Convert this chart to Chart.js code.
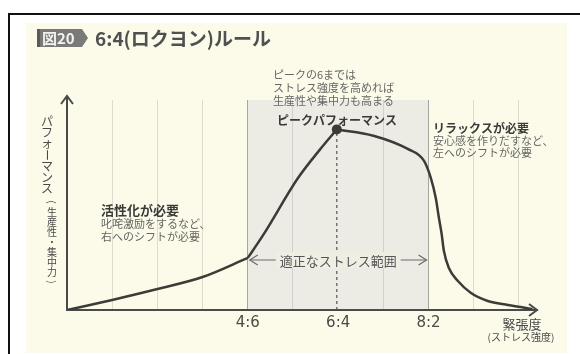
<!DOCTYPE html>
<html lang="ja">
<head>
<meta charset="utf-8">
<script src="https://cdn.jsdelivr.net/npm/chart.js@4.4.1/dist/chart.umd.min.js"></script>
<style>
  html, body { margin: 0; padding: 0; background: #fff; }
  #chart { display: block; }
</style>
</head>
<body>
<canvas id="chart" width="580" height="354"></canvas>
<script>
// x = stress level (4 -> 4:6, 6 -> 6:4, 8 -> 8:2), y = performance 0-100
const lowX = [0, 1, 2, 3, 4];
const lowY = [0, 4.8, 10, 15.7, 24.8];
const climbX = [4, 4.35, 5.1, 5.6, 5.97];
const climbY = [24.8, 36, 62.5, 76.5, 86];
const fallX = [5.97, 6.78, 7.54, 7.9, 8.05, 8.16, 8.23, 8.29, 8.34, 8.45, 8.65, 8.94, 9.31, 9.76, 10.04, 10.3];
const fallY = [86, 83, 76.7, 71, 62.9, 53.3, 43.8, 36.2, 28.1, 20, 13.8, 8.1, 4.3, 2.4, 1.4, 0.4];
const peakX = 5.97, peakY = 86;
const zoneFrom = 4, zoneTo = 8;
const gridValues = [1, 2, 3, 4, 5, 6, 7, 8, 9, 10];
const tickLabels = { 4: '4:6', 6: '6:4', 8: '8:2' };

const JP = "'Noto Sans CJK JP', sans-serif";
const lineColor = '#3d3b38';

const toPoints = (xs, ys) => xs.map((x, i) => ({ x: x, y: ys[i] }));

// stacked vertical japanese text, some glyphs turned
function vtext(ctx, str, x, y, step) {
  [...str].forEach((ch, i) => {
    const cy = y + i * step;
    if ('ー()'.includes(ch)) {
      ctx.save();
      ctx.translate(x, cy);
      ctx.rotate(Math.PI / 2);
      ctx.fillText(ch, 0, 0);
      ctx.restore();
    } else {
      ctx.fillText(ch, x, cy);
    }
  });
}

function arrowHead(ctx, x, y, dir, len, half) {
  ctx.beginPath();
  if (dir === 'right') {
    ctx.moveTo(x - len, y - half); ctx.lineTo(x, y); ctx.lineTo(x - len, y + half);
  } else if (dir === 'left') {
    ctx.moveTo(x + len, y - half); ctx.lineTo(x, y); ctx.lineTo(x + len, y + half);
  } else {
    ctx.moveTo(x - half, y + len); ctx.lineTo(x, y); ctx.lineTo(x + half, y + len);
  }
  ctx.stroke();
}

const paperPlugin = {
  id: 'paper',
  beforeDraw(chart) {
    const ctx = chart.ctx;
    ctx.save();
    ctx.fillStyle = '#ffffff';
    ctx.fillRect(0, 0, chart.width, chart.height);
    ctx.fillStyle = '#fcfbea';
    ctx.fillRect(26, 23, 541, 330);
    ctx.strokeStyle = '#111';
    ctx.lineWidth = 2;
    ctx.beginPath();
    ctx.moveTo(580, 14); ctx.lineTo(9, 14); ctx.lineTo(9, 354);
    ctx.stroke();

    // title badge
    ctx.fillStyle = '#7a7a78';
    ctx.beginPath();
    ctx.moveTo(37, 29); ctx.lineTo(82, 29); ctx.lineTo(88, 38); ctx.lineTo(82, 47); ctx.lineTo(37, 47);
    ctx.closePath();
    ctx.fill();
    ctx.fillStyle = '#5a5a58';
    ctx.fillRect(37, 29, 3, 18);
    ctx.fillStyle = '#f2f2f0';
    ctx.font = 'bold 15px ' + JP;
    ctx.textBaseline = 'middle';
    ctx.fillText('図20', 42, 38.5);
    ctx.fillStyle = '#505050';
    ctx.font = 'bold 19px ' + JP;
    ctx.fillText('6:4(ロクヨン)ルール', 95, 39);
    ctx.restore();
  }
};

const notesPlugin = {
  id: 'notes',
  afterDatasetsDraw(chart) {
    const ctx = chart.ctx;
    const xs = chart.scales.x, ys = chart.scales.y;
    const x0 = xs.getPixelForValue(0), y0 = ys.getPixelForValue(0);
    ctx.save();
    ctx.strokeStyle = '#4a4a48';
    ctx.lineWidth = 2;
    // y axis with arrow
    ctx.beginPath();
    ctx.moveTo(x0, y0 + 1); ctx.lineTo(x0, 96);
    ctx.stroke();
    arrowHead(ctx, x0, 96, 'up', 8, 6);
    arrowHead(ctx, chart.chartArea.right, y0, 'right', 8, 6);

    // optimal stress range
    const ay = ys.getPixelForValue(23.8);
    const ax1 = xs.getPixelForValue(zoneFrom) + 2, ax2 = xs.getPixelForValue(zoneTo) - 2;
    const mid = (ax1 + ax2) / 2;
    ctx.font = '13px ' + JP;
    ctx.textAlign = 'center';
    ctx.textBaseline = 'middle';
    const tw = ctx.measureText('適正なストレス範囲').width;
    ctx.fillStyle = '#efeee3';
    ctx.fillRect(mid - tw / 2 - 3, ay - 8, tw + 6, 16);
    ctx.fillStyle = '#555';
    ctx.fillText('適正なストレス範囲', mid, ay + 1);
    ctx.strokeStyle = '#6a6a68';
    ctx.lineWidth = 1.2;
    ctx.beginPath();
    ctx.moveTo(ax1, ay); ctx.lineTo(mid - tw / 2 - 4, ay);
    ctx.moveTo(mid + tw / 2 + 4, ay); ctx.lineTo(ax2, ay);
    ctx.stroke();
    arrowHead(ctx, ax1, ay, 'left', 8, 5);
    arrowHead(ctx, ax2, ay, 'right', 8, 5);

    // axis titles
    ctx.fillStyle = '#4a4a48';
    ctx.font = '12px ' + JP;
    vtext(ctx, 'パフォーマンス', 47, 121, 11.3);
    ctx.font = '10px ' + JP;
    vtext(ctx, '(生産性・集中力)', 52, 202, 10);
    ctx.font = '13px ' + JP;
    ctx.fillText('緊張度', 522, 324);
    ctx.font = '10px ' + JP;
    ctx.fillText('(ストレス強度)', 521, 337);

    // annotations
    ctx.textAlign = 'left';
    const note = (txt, x, y, bold, size) => {
      ctx.font = (bold ? 'bold ' : '') + size + 'px ' + JP;
      ctx.fillStyle = bold ? '#3a3a38' : '#666664';
      ctx.fillText(txt, x, y);
    };
    note('ピークの6までは', 273, 75, false, 11);
    note('ストレス強度を高めれば', 273, 88, false, 11);
    note('生産性や集中力も高まる', 273, 101, false, 11);
    note('ピークパフォーマンス', 277, 120, true, 12);
    note('リラックスが必要', 433, 128, true, 12);
    note('安心感を作りだすなど、', 433, 141, false, 11);
    note('左へのシフトが必要', 433, 153, false, 11);
    note('活性化が必要', 101, 210, true, 13);
    note('叱咤激励をするなど、', 101, 224, false, 11);
    note('右へのシフトが必要', 101, 237, false, 11);
    ctx.restore();
  }
};

const curve = (xs, ys, order) => ({
  data: toPoints(xs, ys),
  borderColor: lineColor,
  borderWidth: 2.5,
  pointRadius: 0,
  cubicInterpolationMode: 'monotone',
  fill: false,
  order: order
});

new Chart(document.getElementById('chart'), {
  type: 'line',
  data: {
    datasets: [
      {
        data: [{ x: peakX, y: peakY }],
        showLine: false,
        pointRadius: 5,
        pointBackgroundColor: lineColor,
        pointBorderWidth: 0,
        order: 0
      },
      curve(lowX, lowY, 1),
      curve(climbX, climbY, 1),
      curve(fallX, fallY, 2),
      {
        data: [{ x: peakX, y: 0 }, { x: peakX, y: peakY }],
        borderColor: '#555',
        borderWidth: 1.2,
        borderDash: [3, 3],
        pointRadius: 0,
        fill: false,
        order: 3
      },
      {
        // optimal stress zone
        data: [{ x: zoneFrom, y: 100 }, { x: zoneTo, y: 100 }],
        borderWidth: 0,
        pointRadius: 0,
        fill: 'origin',
        backgroundColor: 'rgba(112,111,180,0.1)',
        order: 10
      }
    ]
  },
  options: {
    responsive: false,
    animation: false,
    devicePixelRatio: 1,
    layout: { padding: { left: 67, right: 43, top: 100, bottom: 0 } },
    plugins: { legend: { display: false }, tooltip: { enabled: false } },
    scales: {
      x: {
        type: 'linear',
        min: 0,
        max: 10.4,
        afterBuildTicks: (s) => { s.ticks = gridValues.map(v => ({ value: v })); },
        afterFit: (s) => { s.height = 44; },
        grid: {
          drawTicks: false,
          lineWidth: 1,
          color: (c) => {
            const v = c.tick && c.tick.value;
            if (v === zoneFrom || v === zoneTo) return '#a8a69e';
            if (v === 6) return 'rgba(0,0,0,0)';
            return '#dedcd0';
          }
        },
        border: { display: true, color: '#4a4a48', width: 2 },
        ticks: {
          autoSkip: false,
          maxRotation: 0,
          padding: 4,
          color: '#4a4a48',
          font: { family: 'DejaVu Sans', size: 15 },
          callback: (v) => tickLabels[v] || ''
        }
      },
      y: { display: false, min: 0, max: 100 }
    }
  },
  plugins: [paperPlugin, notesPlugin]
});
</script>
</body>
</html>
